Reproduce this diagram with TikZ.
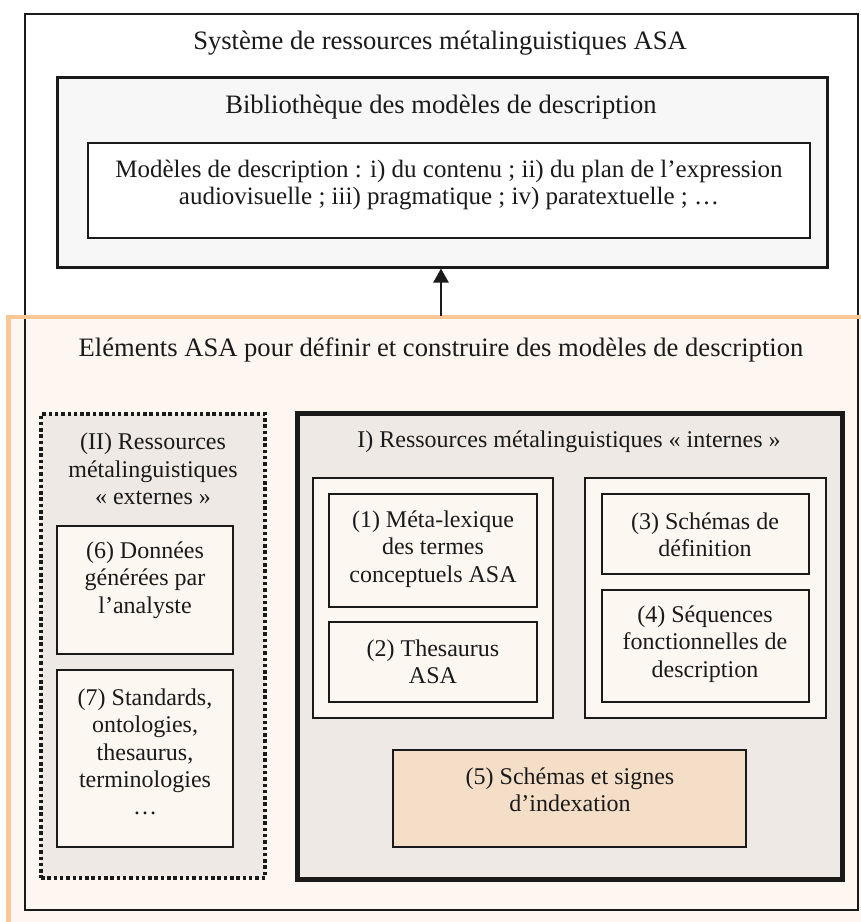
\documentclass[tikz,border=0pt]{standalone}
\usepackage{fontspec}
\setmainfont{Liberation Serif}
\usetikzlibrary{arrows.meta}
\definecolor{orangeline}{HTML}{FBC895}
\definecolor{orangefill}{HTML}{FDF6F1}
\definecolor{libfill}{HTML}{F7F7F7}
\definecolor{greyfill}{HTML}{EEE9E4}
\definecolor{creamfill}{HTML}{FDF7F2}
\definecolor{peachfill}{HTML}{F5DEC7}
\definecolor{ink}{HTML}{1A1A1A}
\tikzset{
  txt/.style={align=center, inner sep=0pt, font=\fontsize{24}{27.3}\selectfont, text=ink},
  bigtxt/.style={txt, font=\fontsize{26.6}{30}\selectfont},
  modtxt/.style={txt, font=\fontsize{25}{26.5}\selectfont},
  smallbox/.style={draw=ink, line width=1.8pt, fill=creamfill},
}
\newcommand{\boxnode}[6]{% style, name, left, top, right, bottom
  \node[#1, inner sep=0pt, minimum width={(#5-#3)*1pt}, minimum height={(#6-#4)*1pt}]
    (#2) at ({(#3+#5)/2},{(#4+#6)/2}) {};}
\begin{document}
\begin{tikzpicture}[x=1pt,y=-1pt]
\useasboundingbox (0,0) rectangle (861,922);
\clip (0,0) rectangle (861,922);
\fill[white] (0,0) rectangle (861,922);
% orange area fill
\fill[orangefill] (8.5,317) rectangle (880,940);
% outer system box
\boxnode{draw=ink, line width=1.8pt}{outer}{25}{14}{858}{910}
% orange border
\draw[orangeline, line width=4.5pt] (8.5,940) -- (8.5,317) -- (880,317);
% library
\boxnode{draw=ink, line width=3pt, fill=libfill}{lib}{57}{77}{827}{267}
\boxnode{draw=ink, line width=1.8pt, fill=white}{models}{88}{143}{810}{238}
% external resources (dotted)
\boxnode{draw=ink, line width=4pt, dash pattern=on 3.5pt off 2.8pt, fill=greyfill}{ext}{41}{414}{265}{878}
% internal resources (thick)
\boxnode{draw=ink, line width=5pt, fill=greyfill}{int}{297}{413}{842}{879}
\boxnode{smallbox}{grpL}{313}{478}{553}{718}
\boxnode{smallbox}{grpR}{585}{478}{826}{718}
\boxnode{smallbox}{b1}{329}{494}{537}{607}
\boxnode{smallbox}{b2}{329}{622}{537}{702}
\boxnode{smallbox}{b3}{602}{494}{809}{574}
\boxnode{smallbox}{b4}{602}{590}{809}{702}
\boxnode{smallbox, fill=peachfill}{b5}{393}{750}{746}{847}
\boxnode{smallbox}{b6}{57}{526}{233}{654}
\boxnode{smallbox}{b7}{57}{670}{233}{847}
% texts
\node[bigtxt] (tsys) at (440,43) {Système de ressources métalinguistiques ASA};
\node[bigtxt] (tlib) at (441,107) {Bibliothèque des modèles de description};
\node[modtxt] (tmod) at (449,185) {Modèles de description : i) du contenu ; ii) du plan de l’expression\\audiovisuelle ; iii) pragmatique ; iv) paratextuelle ; …};
\node[bigtxt] (telem) at (441,350) {Eléments ASA pour définir et construire des modèles de description};
\node[txt] (text) at (153,469) {(II) Ressources\\métalinguistiques\\« externes »};
\node[txt] (tint) at (569,442) {I) Ressources métalinguistiques « internes »};
\node[txt] (t1) at (433,549) {(1) Méta-lexique\\des termes\\conceptuels ASA};
\node[txt] (t2) at (433,662) {(2) Thesaurus\\ASA};
\node[txt] (t3) at (705,535) {(3) Schémas de\\définition};
\node[txt] (t4) at (705,644) {(4) Séquences\\fonctionnelles de\\description};
\node[txt] (t5) at (570,790) {(5) Schémas et signes\\d’indexation};
\node[txt] (t6) at (145,580) {(6) Données\\générées par\\l’analyste};
\node[txt] (t7) at (145,752) {(7) Standards,\\ontologies,\\thesaurus,\\terminologies\\…};
% arrow
\coordinate (arrstart) at (441,316);
\draw[ink, line width=2.4pt, -{Triangle[length=14pt,width=15pt]}] (arrstart) -- (arrstart |- lib.south);
\end{tikzpicture}
\end{document}
